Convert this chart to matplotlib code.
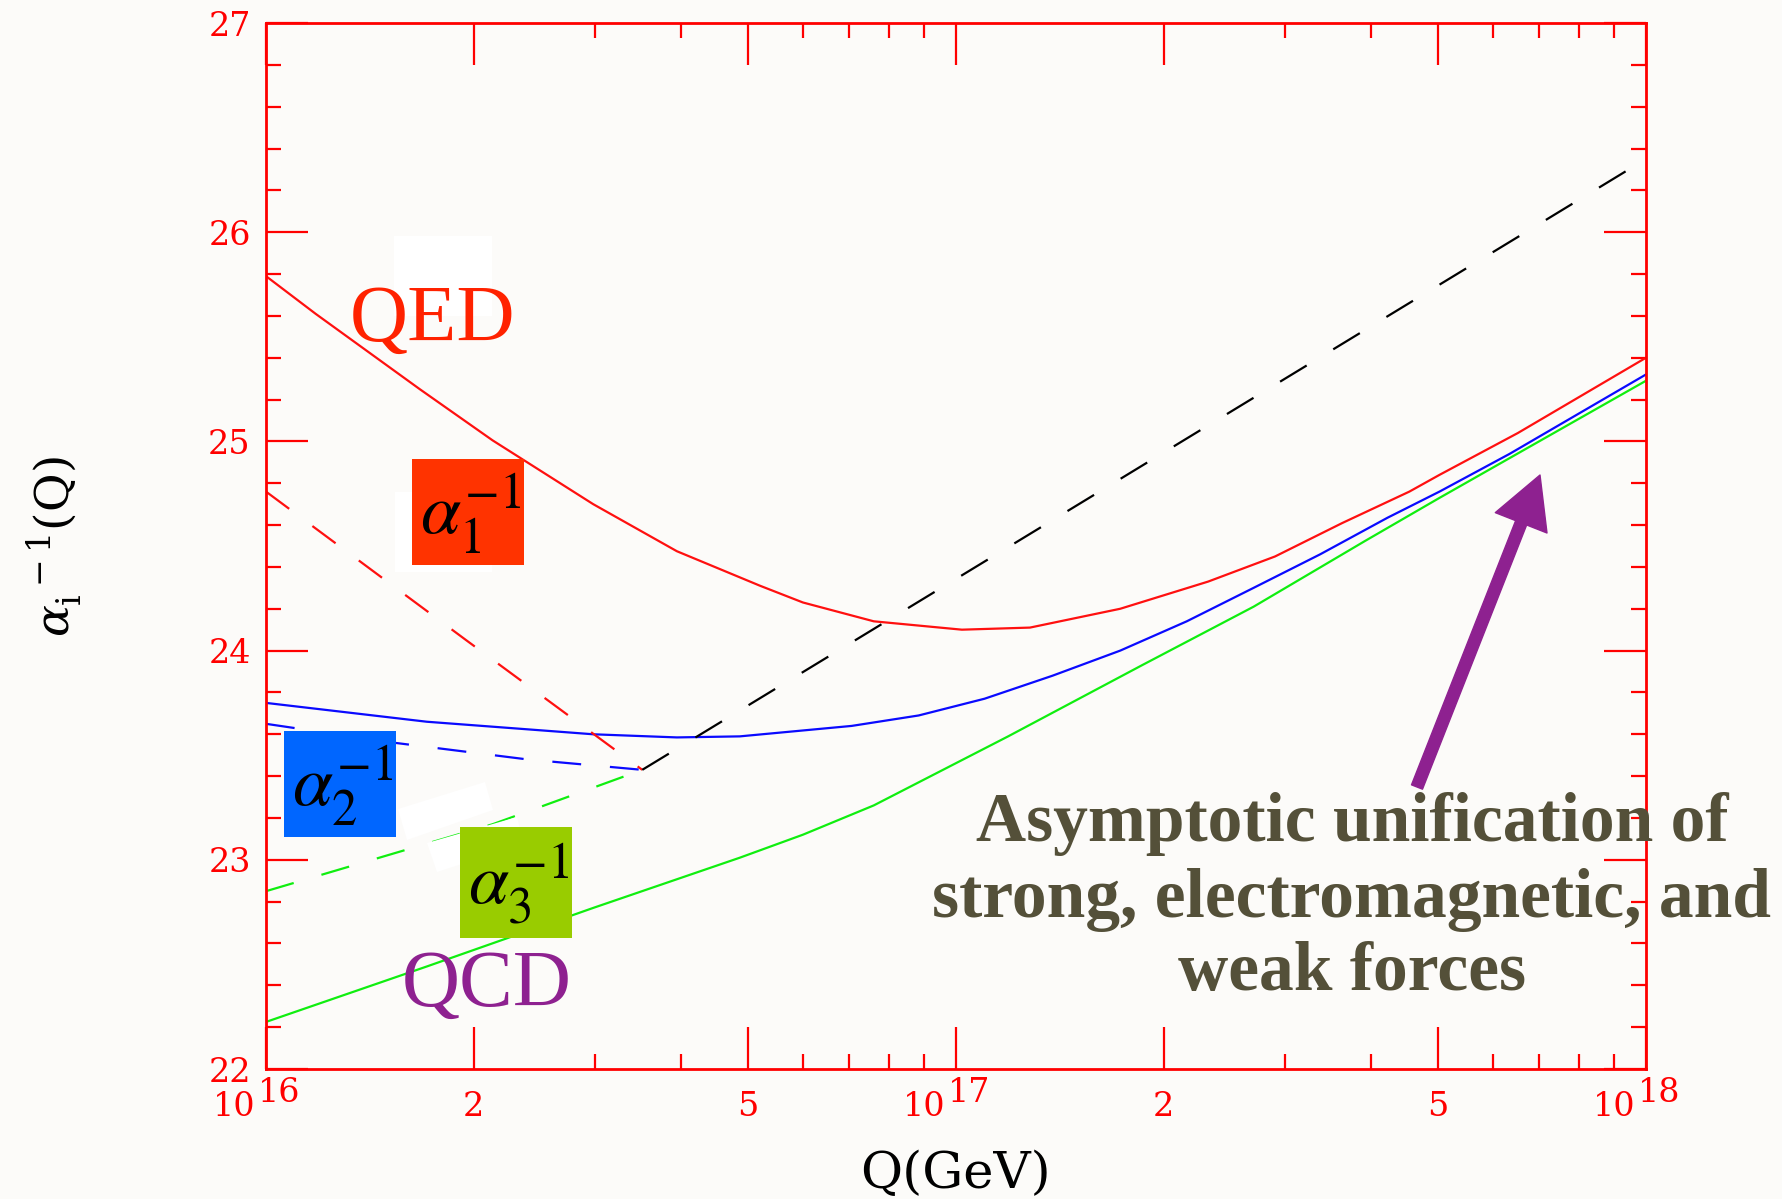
import matplotlib.pyplot as plt
from matplotlib.patches import Rectangle, Polygon
from matplotlib.transforms import blended_transform_factory, offset_copy

# inverse couplings, Q in GeV
q_red = [1.00e16, 1.18e16, 1.67e16, 2.13e16, 2.98e16, 3.94e16, 5.20e16, 6.00e16, 7.60e16,
         1.02e17, 1.28e17, 1.73e17, 2.32e17, 2.90e17, 3.63e17, 4.54e17, 5.02e17, 6.52e17, 1.00e18]
a1_red = [25.79, 25.61, 25.25, 25.005, 24.70, 24.475, 24.31, 24.23, 24.14,
          24.10, 24.11, 24.20, 24.33, 24.45, 24.61, 24.76, 24.84, 25.04, 25.40]

q_blue = [1.00e16, 1.71e16, 2.98e16, 3.94e16, 4.86e16, 7.06e16, 8.83e16, 1.10e17, 1.38e17,
          1.73e17, 2.16e17, 2.70e17, 3.37e17, 4.22e17, 5.02e17, 6.34e17, 1.00e18]
a2_blue = [23.75, 23.66, 23.60, 23.585, 23.59, 23.64, 23.69, 23.77, 23.88,
           24.00, 24.14, 24.30, 24.46, 24.635, 24.76, 24.94, 25.32]

q_green = [1.00e16, 1.71e16, 2.98e16, 4.86e16, 6.00e16, 7.60e16, 1.19e17, 1.86e17, 2.70e17,
           3.92e17, 5.02e17, 1.00e18]
a3_green = [22.225, 22.49, 22.77, 23.01, 23.12, 23.26, 23.59, 23.93, 24.21,
            24.525, 24.73, 25.29]

# dashed (non-susy) pieces
q_red_d = [1.00e16, 1.95e16, 3.51e16]
a1_red_d = [24.76, 24.05, 23.43]
q_blue_d = [1.00e16, 1.53e16, 2.39e16, 3.51e16]
a2_blue_d = [23.65, 23.56, 23.48, 23.43]
q_green_d = [1.00e16, 2.13e16, 3.51e16]
a3_green_d = [22.85, 23.17, 23.43]
q_black_d = [3.51e16, 1.00e18]
a_black_d = [23.43, 26.35]

x_major = [1e16, 2e16, 5e16, 1e17, 2e17, 5e17, 1e18]
x_major_labels = ['', '2', '5', '', '2', '5', '']
x_decades = [1e16, 1e17, 1e18]
x_decade_exp = ['16', '17', '18']
x_minor = [3e16, 4e16, 6e16, 7e16, 8e16, 9e16, 3e17, 4e17, 6e17, 7e17, 8e17, 9e17]
y_major = [22, 23, 24, 25, 26, 27]
y_minor = [22.2, 22.4, 22.6, 22.8, 23.2, 23.4, 23.6, 23.8, 24.2, 24.4, 24.6, 24.8,
           25.2, 25.4, 25.6, 25.8, 26.2, 26.4, 26.6, 26.8]

note_lines = ['Asymptotic unification of', 'strong, electromagnetic, and', 'weak forces']

W, H = 1783, 1199
BG = '#fcfbf9'
PURPLE = '#8e2190'

plt.rcParams['font.family'] = ['DejaVu Serif']
plt.rcParams['mathtext.fontset'] = 'dejavuserif'


def fig_xy(x, y):
    # picture pixels (origin top left) -> figure fraction
    return x / W, 1 - y / H


fig = plt.figure(figsize=(W / 100, H / 100), dpi=100, facecolor=BG)
ax = fig.add_axes([266 / W, 1 - 1069 / H, 1380 / W, 1046 / H])
ax.set_facecolor(BG)

lw = 1.6
ax.plot(q_red, a1_red, color='#ff1010', lw=lw)
ax.plot(q_blue, a2_blue, color='#0a0aff', lw=lw)
ax.plot(q_green, a3_green, color='#10ee10', lw=lw)
ax.plot(q_red_d, a1_red_d, color='#ff1010', lw=lw, dashes=(13, 13))
ax.plot(q_blue_d, a2_blue_d, color='#0a0aff', lw=lw, dashes=(13, 13))
ax.plot(q_green_d, a3_green_d, color='#10ee10', lw=lw, dashes=(13, 13))
ax.plot(q_black_d, a_black_d, color='black', lw=lw, dashes=(14, 14))

ax.set_xscale('log')
ax.set_xlim(1e16, 1e18)
ax.set_ylim(22, 27)
ax.set_xticks(x_major)
ax.set_xticklabels(x_major_labels)
ax.set_xticks(x_minor, minor=True)
ax.set_xticklabels([], minor=True)
ax.set_yticks(y_major)
ax.set_yticks(y_minor, minor=True)

for s in ax.spines.values():
    s.set_color('red')
    s.set_linewidth(2)
ax.tick_params(which='both', direction='in', top=True, right=True, color='red',
               labelcolor='red', width=1.6, labelsize=24)
ax.tick_params(which='major', length=30)
ax.tick_params(which='minor', length=11)
ax.tick_params(axis='y', pad=11)
ax.tick_params(axis='x', pad=34)
for lbl in ax.get_xticklabels():
    lbl.set_verticalalignment('baseline')

# decade labels: "10" left of the tick, full size exponent right of it
tr = blended_transform_factory(ax.transData, ax.transAxes)
base_tr = offset_copy(tr, fig=fig, x=-7.5, y=-34, units='points')
sup_tr = offset_copy(tr, fig=fig, x=-6, y=-24, units='points')
for q, e in zip(x_decades, x_decade_exp):
    ax.text(q, 0, '10', transform=base_tr, ha='right', va='baseline', fontsize=24,
            color='red', clip_on=False)
    ax.text(q, 0, e, transform=sup_tr, ha='left', va='baseline', fontsize=24,
            color='red', clip_on=False)

# axis titles
fig.text(*fig_xy(956, 1188), 'Q(GeV)', ha='center', va='baseline', fontsize=37)
fig.text(*fig_xy(54, 547), r'$\alpha_{\rm i}^{\ -1}$(Q)', ha='center', va='center',
         rotation=90, fontsize=34)

# white patches left over behind the labels
for (x0, y0, x1, y1) in [(394, 236, 492, 316), (395, 492, 492, 572)]:
    fig.patches.append(Rectangle(fig_xy(x0, y1), (x1 - x0) / W, (y1 - y0) / H,
                                 transform=fig.transFigure, color='white', lw=0))
for pts in [[(398, 809), (485, 782), (493, 810), (407, 840)],
            [(427, 843), (517, 817), (524, 844), (437, 872)]]:
    fig.patches.append(Polygon([fig_xy(*p) for p in pts], closed=True,
                               transform=fig.transFigure, color='white', lw=0))

# coloured coupling boxes
boxes = [((412, 459, 524, 565), '#ff3300', r'$\alpha_1^{-1}$'),
         ((284, 731, 396, 837), '#0066ff', r'$\alpha_2^{-1}$'),
         ((460, 827, 572, 938), '#99cc00', r'$\alpha_3^{-1}$')]
for (x0, y0, x1, y1), col, lab in boxes:
    fig.patches.append(Rectangle(fig_xy(x0, y1), (x1 - x0) / W, (y1 - y0) / H,
                                 transform=fig.transFigure, color=col, lw=0))
    fig.text(*fig_xy((x0 + x1) / 2 + 2, (y0 + y1) / 2 + 2), lab, ha='center', va='center',
             fontsize=52, math_fontfamily='stix', color='black')

fig.text(*fig_xy(433, 341), 'QED', ha='center', va='baseline', fontsize=58,
         family='Liberation Serif', color='#ff2200')
fig.text(*fig_xy(487, 1006), 'QCD', ha='center', va='baseline', fontsize=58,
         family='Liberation Serif', color=PURPLE)

for line, base in zip(note_lines, [841, 917, 990]):
    fig.text(*fig_xy(1352, base), line, ha='center', va='baseline', fontsize=50,
             family='Liberation Serif', weight='bold', color='#545039')

ax.annotate('', xy=fig_xy(1540, 475), xytext=fig_xy(1417, 787),
            xycoords='figure fraction', textcoords='figure fraction',
            arrowprops=dict(arrowstyle='simple,head_length=3.7,head_width=4.0,tail_width=0.85',
                            mutation_scale=10, color=PURPLE, shrinkA=0, shrinkB=0))

fig.savefig('out.png', dpi=100, facecolor=BG)
